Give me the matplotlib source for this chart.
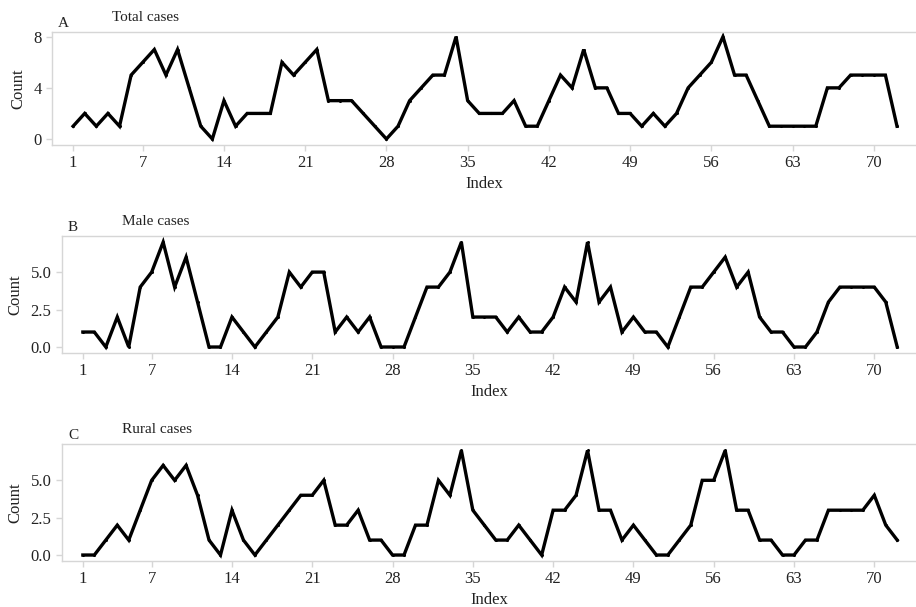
import matplotlib
matplotlib.use("Agg")
import matplotlib.pyplot as plt
import numpy as np

plt.rcParams['font.family'] = ['Liberation Serif', 'DejaVu Serif']

index = np.arange(1, 73)

total_cases = [1, 2, 1, 2, 1, 5, 6, 7, 5, 7, 4, 1, 0, 3, 1, 2, 2, 2, 6, 5,
               6, 7, 3, 3, 3, 2, 1, 0, 1, 3, 4, 5, 5, 8, 3, 2, 2, 2, 3, 1,
               1, 3, 5, 4, 7, 4, 4, 2, 2, 1, 2, 1, 2, 4, 5, 6, 8, 5, 5, 3,
               1, 1, 1, 1, 1, 4, 4, 5, 5, 5, 5, 1]
male_cases = [1, 1, 0, 2, 0, 4, 5, 7, 4, 6, 3, 0, 0, 2, 1, 0, 1, 2, 5, 4,
              5, 5, 1, 2, 1, 2, 0, 0, 0, 2, 4, 4, 5, 7, 2, 2, 2, 1, 2, 1,
              1, 2, 4, 3, 7, 3, 4, 1, 2, 1, 1, 0, 2, 4, 4, 5, 6, 4, 5, 2,
              1, 1, 0, 0, 1, 3, 4, 4, 4, 4, 3, 0]
rural_cases = [0, 0, 1, 2, 1, 3, 5, 6, 5, 6, 4, 1, 0, 3, 1, 0, 1, 2, 3, 4,
               4, 5, 2, 2, 3, 1, 1, 0, 0, 2, 2, 5, 4, 7, 3, 2, 1, 1, 2, 1,
               0, 3, 3, 4, 7, 3, 3, 1, 2, 1, 0, 0, 1, 2, 5, 5, 7, 3, 3, 1,
               1, 0, 0, 1, 1, 3, 3, 3, 3, 4, 2, 1]

xticks = [1, 7, 14, 21, 28, 35, 42, 49, 56, 63, 70]

panels = [
    ("A", "Total cases", total_cases, [0, 4, 8], ["0", "4", "8"], (-0.47, 8.37)),
    ("B", "Male cases", male_cases, [0, 2.5, 5.0], ["0.0", "2.5", "5.0"], (-0.4, 7.41)),
    ("C", "Rural cases", rural_cases, [0, 2.5, 5.0], ["0.0", "2.5", "5.0"], (-0.4, 7.43)),
]

# axes boxes in figure pixels: left, top, bottom
boxes = [(52, 32, 145), (62, 236, 353), (62, 444, 561)]
W, H = 916, 607
fig = plt.figure(figsize=(W / 100, H / 100), dpi=100)

frame = "#d6d6d6"
for (letter, title, values, yt, ytl, ylim), (l, t, b) in zip(panels, boxes):
    ax = fig.add_axes([l / W, 1 - b / H, 1 - l / W, (b - t) / H])
    ax.plot(index, values, color="black", lw=2.4, marker="o", ms=1.2,
            solid_joinstyle="miter")
    ax.set_xlim(1 - (21 / 11.55), 70 + (W - 874) / 11.55)
    ax.set_ylim(*ylim)
    ax.set_xticks(xticks)
    ax.set_yticks(yt)
    ax.set_yticklabels(ytl)
    ax.spines["right"].set_visible(False)
    for s in ["top", "left", "bottom"]:
        ax.spines[s].set_color(frame)
        ax.spines[s].set_linewidth(1.0)
    ax.tick_params(colors=frame, labelcolor="#222222", labelsize=12, length=4, width=1)
    ax.set_xlabel("Index", fontsize=12, color="#222222", labelpad=3)
    ax.set_ylabel("Count", fontsize=12, color="#222222", labelpad=5)
    fig.text((l + 6) / W, 1 - (t - 5) / H, letter, fontsize=11, color="#222222")
    fig.text((l + 60) / W, 1 - (t - 11) / H, title, fontsize=11, color="#222222")

fig.savefig("out.png", dpi=100)
